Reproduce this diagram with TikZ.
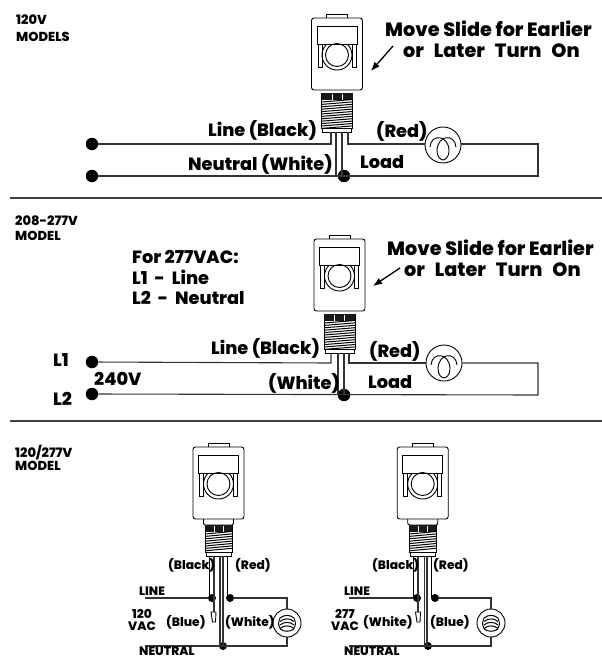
\documentclass[tikz,border=0pt]{standalone}
\usepackage{fontspec}
\usetikzlibrary{arrows.meta,calc}
\setmainfont{Poppins}[BoldFont={Poppins ExtraBold}]
\newcommand{\senso}[6]{% cx top thalf theight name threadtop
\begin{scope}[shift={(#1,#2)}]
 \draw[part,rounded corners=2.5pt] (-25.5,72)--(-25.5,0)--(25.5,0)--(25.5,72)--cycle;
 \draw[part] (-10.5,0)--(-10.5,-3.5)--(10.5,-3.5)--(10.5,0);
 \draw[part] (-20,8) rectangle (20,26);
 \draw[part] (-19,26)--(-19,49)--(-15,49)--(-15,26);
 \draw[part] (19,26)--(19,49)--(15,49)--(15,26);
 \draw[part] (0,37) circle (11.5);
 \draw[part] (0,37) ++(226:15) arc (226:-46:15);
 \ifnum#6>75 \draw[part,rounded corners=2pt] (-15,72)--(-15,78)--(15,78)--(15,72);\fi
 \pgfmathsetmacro{\ttop}{#6}
 \pgfmathsetmacro{\tbot}{\ttop+#4}
 \draw[part] (-#3,\ttop) rectangle (#3,\tbot);
 \draw[part] (-#3+1,\tbot) rectangle (#3-1,\tbot+4);
 \fill[black!90] (-#3,\ttop) rectangle (#3,\ttop+7);
 \draw[white,line width=.5pt] (-#3/3,\ttop+1)--(-#3/3,\ttop+7) (#3/3,\ttop+1)--(#3/3,\ttop+7);
 \foreach \q in {0,2.4,...,\numexpr#4-8\relax}{\draw[line width=1pt] (-#3,\ttop+9+\q) -- (#3,\ttop+6.5+\q);}
 \coordinate (#5-a) at (-6,\tbot+4);
\end{scope}}
\newcommand{\filament}[1]{%
 \draw[part] ($(#1)+(-13,2)$) .. controls ($(#1)+(-12,-12)$) and ($(#1)+(6,-10)$) .. ($(#1)+(6,6)$) .. controls ($(#1)+(6,12)$) and ($(#1)+(2,15)$) .. ($(#1)+(0,15)$);
 \draw[part] ($(#1)+(13,2)$) .. controls ($(#1)+(12,-12)$) and ($(#1)+(-6,-10)$) .. ($(#1)+(-6,6)$) .. controls ($(#1)+(-6,12)$) and ($(#1)+(-2,15)$) .. ($(#1)+(0,15)$);}
\newcommand{\coil}[1]{%
 \foreach \y in {-6,-2.5,1,4.5}{\draw[line width=1pt] ($(#1)+(-7,\y+1)$) .. controls ($(#1)+(-3,\y-2.5)$) and ($(#1)+(3,\y-2.5)$) .. ($(#1)+(7,\y+1)$);}
 \draw[part] ($(#1)+(-7,-5)$) .. controls ($(#1)+(-9,0)$) and ($(#1)+(-9,3)$) .. ($(#1)+(-7,5.5)$);
 \draw[part] ($(#1)+(7,-5)$) .. controls ($(#1)+(9,0)$) and ($(#1)+(9,3)$) .. ($(#1)+(7,5.5)$);
 \draw[line width=1pt] ($(#1)+(-7,6)$) .. controls ($(#1)+(-3,9)$) and ($(#1)+(3,9)$) .. ($(#1)+(7,6)$);}
\tikzset{
 part/.style={line width=.9pt,draw=black},
 wire/.style={line width=1.1pt,draw=black!80},
 rule/.style={line width=1.5pt,draw=black!75},
 dot/.style={circle,fill=black,inner sep=0,minimum size=12.5pt},
 lab/.style={anchor=base west,inner sep=0,font=\fontsize{17.7}{19}\selectfont\bfseries},
 big/.style={anchor=base west,inner sep=0,font=\fontsize{19.2}{20}\selectfont\bfseries},
 small/.style={anchor=base west,inner sep=0,font=\fontsize{13}{14}\selectfont\bfseries},
 mid/.style={anchor=base west,inner sep=0,font=\fontsize{12.2}{13}\selectfont\bfseries},
 bulb/.style={circle,draw=black,line width=.9pt,inner sep=0,fill=white}
}
\begin{document}
\begin{tikzpicture}[x=1pt,y=-1pt]
\useasboundingbox (0,0) rectangle (602,656);
\coordinate (s1l) at (10,198); \coordinate (s1r) at (602,198);
\coordinate (s2l) at (10,421); \coordinate (s2r) at (602,421);
\draw[rule] (s1l)--(s1r); \draw[rule] (s2l)--(s2r);
% section 1
\node[small] (t1a) at (16,24) {120V};
\node[small] (t1b) at (16,41) {MODELS};
\senso{337}{18}{15.5}{35}{A}{75}
\node[big] (m1) at (385,36) {Move Slide for Earlier};
\node[big] (m2) at (403,57) {\spaceskip=10pt or Later Turn On};
\coordinate (ar1s) at (393,46); \coordinate (ar1e) at (371,71);
\draw[line width=1.3pt,-{Latex[length=9pt,width=7pt]}] (ar1s)--(ar1e);
\node[dot] (d1) at (92,144) {};
\node[dot] (d2) at (92,176) {};
\node[dot] (d3) at (344,176) {};
\node[bulb,minimum size=36pt] (b1) at (443,145) {};
\filament{b1.center}
\coordinate (c1) at (538,144); \coordinate (c2) at (538,176);
\coordinate (k1) at (331,144); \coordinate (k2) at (348,144);
\draw[wire] (d1)--(k1)--(k1|-A-a);
\draw[wire] (b1.west|-k2)--(k2)--(k2|-A-a);
\draw[wire] (b1.east|-c1)--(c1)--(c2)--(d2);
\draw[wire] (336,132)--(336,176) (342,132)--(342,176);
\node[lab] (l1) at (208,136) {Line (Black)};
\node[lab] (l2) at (376,137) {(Red)};
\node[lab] (l3) at (188,170) {Neutral (White)};
\node[lab] (l4) at (360,168) {Load};
% section 2
\node[small] (t2a) at (15,225) {208-277V};
\node[small] (t2b) at (15,240) {MODEL};
\senso{339.5}{239}{15.5}{35}{B}{75}
\node[big] (m3) at (387,255) {Move Slide for Earlier};
\node[big] (m4) at (404,276) {\spaceskip=10pt or Later Turn On};
\coordinate (ar2s) at (400,268); \coordinate (ar2e) at (373,286);
\draw[line width=1.3pt,-{Latex[length=9pt,width=7pt]}] (ar2s)--(ar2e);
\node[lab] (f1) at (132,263) {For 277VAC:};
\node[lab] (f2) at (132,284) {\spaceskip=7pt L1 - Line};
\node[lab] (f3) at (132,304) {\spaceskip=7pt L2 - Neutral};
\node[dot] (e1) at (92,362) {};
\node[dot] (e2) at (92,394) {};
\node[dot] (e3) at (344,395) {};
\node[bulb,minimum size=36pt] (b2) at (444,363) {};
\filament{b2.center}
\coordinate (g1) at (538,363); \coordinate (g2) at (538,395);
\coordinate (h1) at (331,363); \coordinate (h2) at (349,363);
\draw[wire] (e1)--(h1)--(h1|-B-a);
\draw[wire] (b2)--(h2)--(h2|-B-a);
\draw[wire] (b2)--(g1)--(g2)--(e2);
\draw[wire] (338,353)--(338,395) (344,353)--(344,395);
\node[lab] (l5) at (211,354) {Line (Black)};
\node[lab] (l6) at (369,357) {(Red)};
\node[lab] (l7) at (268,389) {(White)};
\node[lab] (l8) at (368,388) {Load};
\node[lab] (l9) at (53,366) {L1};
\node[lab] (l10) at (53,405) {L2};
\node[lab] (l11) at (94,385) {240V};
% section 3
\node[small] (t3a) at (15,457) {120/277V};
\node[small] (t3b) at (15,470) {MODEL};
\senso{218.5}{447}{13.5}{27}{C}{78}
\senso{422.7}{447}{13.5}{27}{D}{78}
% left
\coordinate (p1) at (145,598); \coordinate (p2) at (145,646);
\coordinate (q1) at (287,598); \coordinate (q2) at (287,646);
\node[dot,minimum size=8pt] (n1) at (212,598) {};
\node[dot,minimum size=8pt] (n2) at (230,598) {};
\node[dot,minimum size=8pt] (n3) at (223,646) {};
\node[bulb,minimum size=28pt] (b3) at (287,623) {};
\draw[wire] (p1)--(n1) (n2)--(q1)--(b3) (b3)--(q2)--(p2);
\draw[line width=1pt] (209,556)--(209,598);
\draw[wire] (214,556)--(214,612);
\draw[wire] (220,556)--(220,646) (223,556)--(223,646);
\draw[line width=1pt] (227,556)--(227,598);
\coil{b3.center}
\draw[part,fill=white] (211,612) -- (216,612) -- (215.5,622) -- (212.5,622) -- cycle;
\node[mid] (c1a) at (168,569) {(Black)};
\node[mid] (c1b) at (235,569) {(Red)};
\node[mid] (c1c) at (139,595) {LINE};
\node[mid] (c1d) at (166,626) {(Blue)};
\node[mid] (c1e) at (225,626) {(White)};
\node[mid] (c1f) at (139,655) {NEUTRAL};
\node[mid,anchor=base] (c1g) at (142,618) {120};
\node[mid,anchor=base] (c1h) at (142,630) {VAC};
% right
\coordinate (u1) at (349,598); \coordinate (u2) at (349,646);
\coordinate (v1) at (491,598); \coordinate (v2) at (491,646);
\node[dot,minimum size=8pt] (o1) at (417,598) {};
\node[dot,minimum size=8pt] (o2) at (435,598) {};
\node[dot,minimum size=8pt] (o3) at (428,646) {};
\node[bulb,minimum size=28pt] (b4) at (491,623) {};
\draw[wire] (u1)--(o1) (o2)--(v1)--(b4) (b4)--(v2)--(u2);
\draw[line width=1pt] (413,556)--(413,598);
\draw[wire] (418,556)--(418,612);
\draw[wire] (424.5,556)--(424.5,646) (427,556)--(427,646);
\draw[line width=1pt] (431,556)--(431,598);
\coil{b4.center}
\draw[part,fill=white] (415.5,612) -- (420.5,612) -- (420,622) -- (417,622) -- cycle;
\node[mid] (c2a) at (372,569) {(Black)};
\node[mid] (c2b) at (433,569) {(Red)};
\node[mid] (c2c) at (344,595) {LINE};
\node[mid] (c2d) at (363,626) {(White)};
\node[mid] (c2e) at (430,626) {(Blue)};
\node[mid] (c2f) at (344,655) {NEUTRAL};
\node[mid,anchor=base] (c2g) at (345,618) {277};
\node[mid,anchor=base] (c2h) at (345,630) {VAC};
\end{tikzpicture}
\end{document}
